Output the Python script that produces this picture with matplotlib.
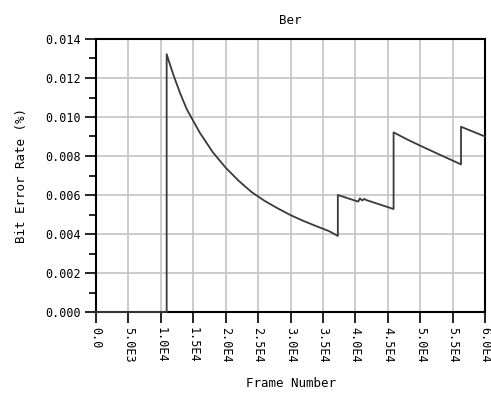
import matplotlib.pyplot as plt
from matplotlib.ticker import MultipleLocator

# frame number vs bit error rate
frames = [0, 10900, 10900, 11500, 12000, 13000, 14000, 15000, 16000, 17000,
          18000, 19000, 20000, 22000, 24000, 26000, 28000, 30000, 32000,
          34000, 36000, 37300,
          37300, 40450, 40700, 41050, 41400, 41700, 45900,
          45900, 48000, 50000, 53000, 56300,
          56300, 60000]
ber = [0.0, 0.0, 0.01322, 0.0126, 0.0121, 0.0112, 0.0104, 0.0098, 0.0092, 0.0087,
       0.0082, 0.0078, 0.0074, 0.00673, 0.00615, 0.0057, 0.00532, 0.00497, 0.00467,
       0.0044, 0.00414, 0.0039,
       0.0060, 0.00566, 0.00583, 0.00572, 0.00580, 0.00574, 0.00528,
       0.00921, 0.00885, 0.00853, 0.00807, 0.00757,
       0.0095, 0.0090]

xticks = [0, 5000, 10000, 15000, 20000, 25000, 30000, 35000, 40000, 45000,
          50000, 55000, 60000]
xtick_labels = ["0.0", "5.0E3", "1.0E4", "1.5E4", "2.0E4", "2.5E4", "3.0E4",
                "3.5E4", "4.0E4", "4.5E4", "5.0E4", "5.5E4", "6.0E4"]
yticks = [0.000, 0.002, 0.004, 0.006, 0.008, 0.010, 0.012, 0.014]
ytick_labels = ["%.3f" % v for v in yticks]

plt.rcParams['font.family'] = 'DejaVu Sans Mono'

fig = plt.figure(figsize=(4.91, 3.99), dpi=100)
ax = fig.add_axes([96 / 491, 87 / 399, 389 / 491, 273 / 399])

ax.plot(frames, ber, color='#3a3a3a', lw=1.3, zorder=3, clip_on=False)

ax.set_xlim(0, 60000)
ax.set_ylim(0, 0.014)
ax.set_xticks(xticks)
ax.set_xticklabels(xtick_labels, rotation=270, fontsize=8.5)
ax.set_yticks(yticks)
ax.set_yticklabels(ytick_labels, fontsize=8.5)
ax.yaxis.set_minor_locator(MultipleLocator(0.001))

ax.grid(True, which='major', color='#c4c4c4', lw=1.2)
ax.set_axisbelow(True)
ax.tick_params(axis='both', which='major', direction='out', length=8, width=1.2,
               pad=3, top=False, right=False)
ax.tick_params(axis='y', which='minor', direction='out', length=5, width=1.2)
for s in ax.spines.values():
    s.set_linewidth(1.5)
    s.set_color('black')

ax.set_title("Ber", fontsize=9, pad=11)
ax.set_xlabel("Frame Number", fontsize=9, labelpad=10)
ax.set_ylabel("Bit Error Rate (%)", fontsize=9, labelpad=12)

fig.savefig("out.png", dpi=100)
